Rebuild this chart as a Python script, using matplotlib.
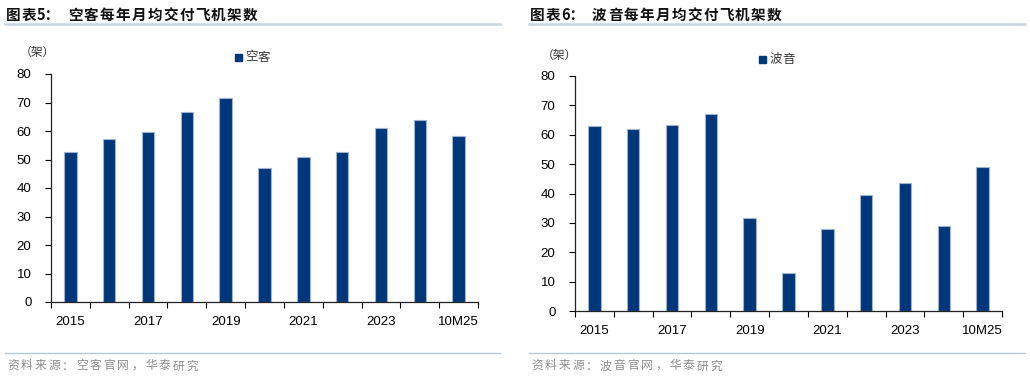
import matplotlib
matplotlib.use("Agg")
import matplotlib.pyplot as plt
from matplotlib.lines import Line2D
import numpy as np

plt.rcParams['font.family'] = ['Liberation Sans', 'Noto Sans CJK SC', 'DejaVu Sans']

categories = ["2015", "2016", "2017", "2018", "2019", "2020", "2021", "2022", "2023", "2024", "10M25"]
airbus = [52.6, 57.1, 59.6, 66.5, 71.6, 47.0, 50.8, 52.5, 61.0, 63.7, 58.2]
boeing = [63.1, 62.0, 63.2, 67.0, 31.5, 13.0, 28.0, 39.5, 43.6, 29.0, 48.9]
tick_labels = ["2015", "", "2017", "", "2019", "", "2021", "", "2023", "", "10M25"]

title_prefix = ["图表5：", "图表6："]
title_body = ["空客每年月均交付飞机架数", "波音每年月均交付飞机架数"]
legends = ["空客", "波音"]
sources = ["资料来源：空客官网，华泰研究", "资料来源：波音官网，华泰研究"]

W, H = 1030, 378
fig = plt.figure(figsize=(W / 100, H / 100), dpi=100)

bar_color = "#00377a"
edge_color = "#9db3d0"
cjk = ['Noto Sans CJK SC', 'DejaVu Sans']

def fx(px):
    return px / W

def fy(py):
    return 1 - py / H

def spaced(x, y, s, step, **kw):
    for k, ch in enumerate(s):
        fig.text(fx(x + k * step), fy(y), ch, va='center', ha='left', **kw)

panels = [
    dict(x0=5, x1=500, ax=(51, 478, 74, 302), data=airbus, leg=(235, 57), unit=(20, 52), body=68),
    dict(x0=529, x1=1025, ax=(575, 1002, 76, 311), data=boeing, leg=(759, 59), unit=(542, 55), body=592),
]

for i, p in enumerate(panels):
    l, r, t, b = p["ax"]
    ax = fig.add_axes([fx(l), fy(b), fx(r - l), fy(t) - fy(b)])
    x = np.arange(len(categories))
    ax.bar(x, p["data"], width=0.32, color=bar_color, edgecolor=edge_color, linewidth=0.8, zorder=2)
    ax.set_xlim(-0.5, len(categories) - 0.5)
    ax.set_ylim(0, 80)
    ax.set_yticks(np.arange(0, 81, 10))
    ax.set_xticks(x)
    ax.set_xticklabels(tick_labels)
    ax.set_xticks(np.arange(-0.5, len(categories), 1.0), minor=True)
    ax.tick_params(axis='x', which='major', length=0, pad=10, labelsize=9.5)
    ax.tick_params(axis='x', which='minor', length=4, direction='out', width=0.8)
    ax.tick_params(axis='y', length=4, direction='out', width=0.8, pad=10, labelsize=9.5)
    for s in ["top", "right"]:
        ax.spines[s].set_visible(False)
    for s in ["left", "bottom"]:
        ax.spines[s].set_linewidth(0.9)
        ax.spines[s].set_color("#222222")

    # title
    spaced(p["x0"] + 1, 15, title_prefix[i][:2], 15.5, fontsize=10.5, fontweight='bold',
           family=cjk, color='#111111')
    fig.text(fx(p["x0"] + 32), fy(15), title_prefix[i][2:], fontsize=10.5, fontweight='bold',
             family=cjk, va='center', ha='left', color='#111111')
    spaced(p["body"], 15, title_body[i], 15.9, fontsize=10.5, fontweight='bold',
           family=cjk, color='#111111')
    fig.add_artist(Line2D([fx(p["x0"]), fx(p["x1"])], [fy(24), fy(24)],
                          color='#c8d3de', linewidth=1.8))
    # source
    fig.add_artist(Line2D([fx(p["x0"]), fx(p["x1"])], [fy(353), fy(353)],
                          color='#b8c8d8', linewidth=1.0))
    spaced(p["x0"] + 2, 366, sources[i], 13.8, fontsize=8.5, family=cjk, color='#8c8c8c')
    # unit
    fig.text(fx(p["unit"][0]), fy(p["unit"][1]), "（架）", fontsize=8.5, family=cjk,
             va='center', ha='left', color='#333333')
    # legend
    lx, ly = p["leg"]
    fig.patches.append(plt.Rectangle((fx(lx), fy(ly + 4)), fx(7), fy(ly - 3) - fy(ly + 4),
                                     transform=fig.transFigure, color=bar_color, figure=fig))
    spaced(lx + 10, ly, legends[i], 13, fontsize=9, family=cjk, color='#333333')

fig.savefig("out.png", dpi=100)
